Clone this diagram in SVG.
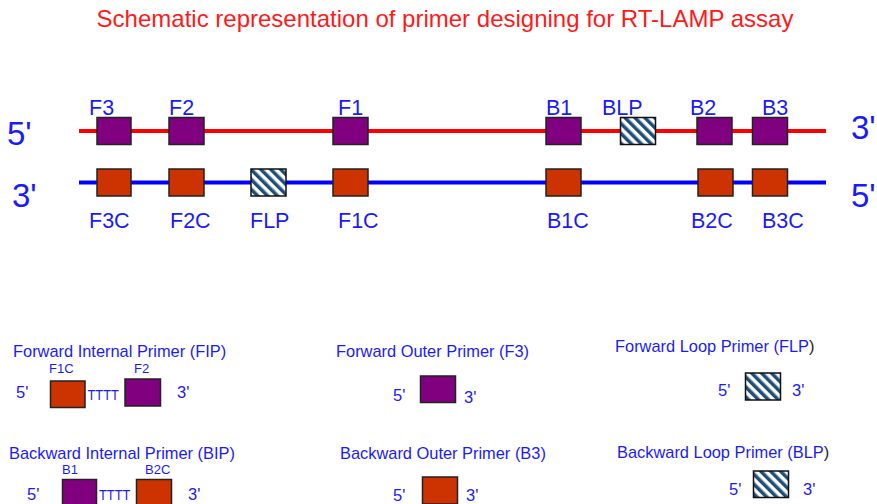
<svg xmlns="http://www.w3.org/2000/svg" width="877" height="504" viewBox="0 0 877 504">
<style>
text{font-family:"Liberation Sans",Arial,sans-serif;fill:#1a1aff}
.title{font-size:24px;fill:#ff1a1a}
.end{font-size:33px}
.lbl{font-size:21.5px}
.hd{font-size:16.4px}
.sm{font-size:13px}
.tt{font-size:14px}
.pr{font-size:16.5px}
.p{fill:#800080;stroke:#222;stroke-width:1.5}
.o{fill:#cc3300;stroke:#222;stroke-width:1.5}
.h{fill:url(#hatch);stroke:#111;stroke-width:1.5}
.dark{fill:#222}
</style>
<defs>
<pattern id="hatch" patternUnits="userSpaceOnUse" width="7" height="7" patternTransform="rotate(-45)">
<rect width="7" height="7" fill="#fff"/>
<rect width="3.5" height="7" fill="#1f4e79"/>
</pattern>
</defs>
<text class="title" x="445" y="27" text-anchor="middle">Schematic representation of primer designing for RT-LAMP assay</text>
<g id="connectors">
<line x1="79" y1="131" x2="826" y2="131" stroke="#ff0000" stroke-width="4"/>
<line x1="79" y1="182.5" x2="826" y2="182.5" stroke="#0000ff" stroke-width="4"/>
</g>
<g id="strand-ends">
<text class="end" x="7" y="145">5'</text>
<text class="end" x="12" y="206.5">3'</text>
<text class="end" x="851" y="139">3'</text>
<text class="end" x="851" y="206.5">5'</text>
</g>
<g id="F3"><rect class="p" x="97" y="117.5" width="34" height="27"/><text class="lbl" x="89" y="115">F3</text></g>
<g id="F2"><rect class="p" x="169" y="117.5" width="35" height="27"/><text class="lbl" x="169" y="115">F2</text></g>
<g id="F1"><rect class="p" x="333" y="117.5" width="35" height="27"/><text class="lbl" x="338" y="115">F1</text></g>
<g id="B1"><rect class="p" x="546" y="117.5" width="35" height="27"/><text class="lbl" x="546" y="115">B1</text></g>
<g id="BLP"><rect class="h" x="620.5" y="117.5" width="35" height="27"/><text class="lbl" x="602" y="115">BLP</text></g>
<g id="B2"><rect class="p" x="697" y="117.5" width="35" height="27"/><text class="lbl" x="690" y="115">B2</text></g>
<g id="B3"><rect class="p" x="752.5" y="117.5" width="35" height="27"/><text class="lbl" x="762" y="115">B3</text></g>
<g id="F3C"><rect class="o" x="97" y="169" width="34" height="27"/><text class="lbl" x="89" y="228">F3C</text></g>
<g id="F2C"><rect class="o" x="169" y="169" width="35" height="27"/><text class="lbl" x="170" y="228">F2C</text></g>
<g id="FLP"><rect class="h" x="251" y="169" width="35" height="27"/><text class="lbl" x="250" y="228">FLP</text></g>
<g id="F1C"><rect class="o" x="333" y="169" width="35" height="27"/><text class="lbl" x="338" y="228">F1C</text></g>
<g id="B1C"><rect class="o" x="546" y="169" width="35" height="27"/><text class="lbl" x="547" y="228">B1C</text></g>
<g id="B2C"><rect class="o" x="698" y="169" width="35" height="27"/><text class="lbl" x="691" y="228">B2C</text></g>
<g id="B3C"><rect class="o" x="752.5" y="169" width="35" height="27"/><text class="lbl" x="762" y="228">B3C</text></g>
<g id="FIP">
<text class="hd" x="13" y="357">Forward Internal Primer (FIP)</text>
<text class="sm" x="49" y="372.5">F1C</text>
<text class="sm" x="134" y="372.5">F2</text>
<text class="pr" x="16" y="398">5'</text>
<rect class="o" x="50.5" y="381" width="34.5" height="26.5"/>
<text class="tt" x="87.5" y="400" textLength="31.5" lengthAdjust="spacingAndGlyphs">TTTT</text>
<rect class="p" x="125" y="379" width="35.5" height="27"/>
<text class="pr" x="177" y="398">3'</text>
</g>
<g id="BIP">
<text class="hd" x="9" y="459">Backward Internal Primer (BIP)</text>
<text class="sm" x="62" y="474">B1</text>
<text class="sm" x="145" y="474">B2C</text>
<text class="pr" x="27" y="500">5'</text>
<rect class="p" x="62.5" y="479.5" width="34" height="27"/>
<text class="tt" x="99" y="500" textLength="31.5" lengthAdjust="spacingAndGlyphs">TTTT</text>
<rect class="o" x="136.5" y="479.5" width="35" height="27"/>
<text class="pr" x="188" y="500">3'</text>
</g>
<g id="F3-primer">
<text class="hd" x="336" y="357">Forward Outer Primer (F3)</text>
<text class="pr" x="393" y="401">5'</text>
<rect class="p" x="420.5" y="376" width="35" height="26.5"/>
<text class="pr" x="464" y="402.5">3'</text>
</g>
<g id="B3-primer">
<text class="hd" x="340" y="459">Backward Outer Primer (B3)</text>
<text class="pr" x="393" y="501">5'</text>
<rect class="o" x="422.5" y="477" width="35" height="27"/>
<text class="pr" x="466" y="501">3'</text>
</g>
<g id="FLP-primer">
<text class="hd" x="615" y="352">Forward Loop Primer (FLP<tspan class="dark">)</tspan></text>
<text class="pr" x="718" y="396">5'</text>
<rect class="h" x="745.5" y="373" width="35" height="27"/>
<text class="pr" x="792" y="396">3'</text>
</g>
<g id="BLP-primer">
<text class="hd" x="617" y="457.5">Backward Loop Primer (BLP<tspan class="dark">)</tspan></text>
<text class="pr" x="729" y="495">5'</text>
<rect class="h" x="753.5" y="471" width="35" height="26.5"/>
<text class="pr" x="803" y="495">3'</text>
</g>
</svg>
